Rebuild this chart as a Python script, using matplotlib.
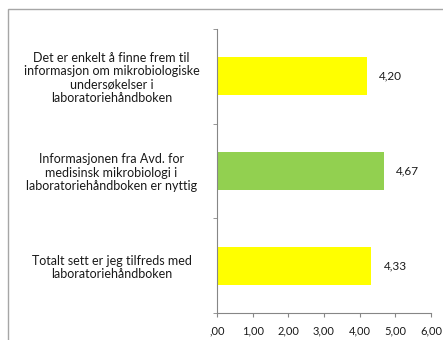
import matplotlib.pyplot as plt
from matplotlib.patches import Rectangle
from matplotlib.ticker import FuncFormatter
import numpy as np

categories = [
    "Det er enkelt å finne frem til\ninformasjon om mikrobiologiske\nundersøkelser i\nlaboratoriehåndboken",
    "Informasjonen fra Avd. for\nmedisinsk mikrobiologi i\nlaboratoriehåndboken er nyttig",
    "Totalt sett er jeg tilfreds med\nlaboratoriehåndboken",
]
values = [4.20, 4.67, 4.33]
colors = ["#FFFF00", "#92D050", "#FFFF00"]

plt.rcParams['font.family'] = ['Lato', 'DejaVu Sans']
axis_col = "#868686"
text_col = "#1a1a1a"

fig = plt.figure(figsize=(4.43, 3.40), dpi=100)
ax = fig.add_axes([217 / 443, 1 - 313 / 340, 214 / 443, 284 / 340])

y = np.arange(len(categories))
ax.barh(y, values, height=0.4, color=colors)
ax.set_ylim(len(categories) - 0.5, -0.5)
ax.set_xlim(0, 6)

for yi, v in zip(y, values):
    ax.annotate(f"{v:.2f}".replace(".", ","), (v, yi), xytext=(12, 0),
                textcoords="offset pixels", va="center", ha="left",
                fontsize=8.5, color=text_col)

ax.set_yticks(y)
ax.set_yticklabels(categories, ha="center", multialignment="center",
                   fontsize=9, color=text_col, linespacing=1.12)
ax.tick_params(axis="y", which="major", length=0, pad=76)
ax.set_yticks(np.arange(len(categories) + 1) - 0.5, minor=True)
ax.tick_params(axis="y", which="minor", length=3, color=axis_col, direction="out")

ax.set_xticks(np.arange(0, 7, 1))
ax.xaxis.set_major_formatter(FuncFormatter(
    lambda x, p: ("%.2f" % x).replace(".", ",").lstrip("0") if x == 0 else ("%.2f" % x).replace(".", ",")))
ax.tick_params(axis="x", length=3, color=axis_col, labelsize=8, labelcolor=text_col, pad=6)

for s in ["top", "right"]:
    ax.spines[s].set_visible(False)
for s in ["left", "bottom"]:
    ax.spines[s].set_color(axis_col)
    ax.spines[s].set_linewidth(0.8)

fig.patches.append(Rectangle((8 / 443, -0.2), 1.2, 1.2 - 9 / 340, transform=fig.transFigure,
                             fill=False, edgecolor="#A6A6A6", linewidth=1.0))

fig.savefig("out.png", dpi=100)
